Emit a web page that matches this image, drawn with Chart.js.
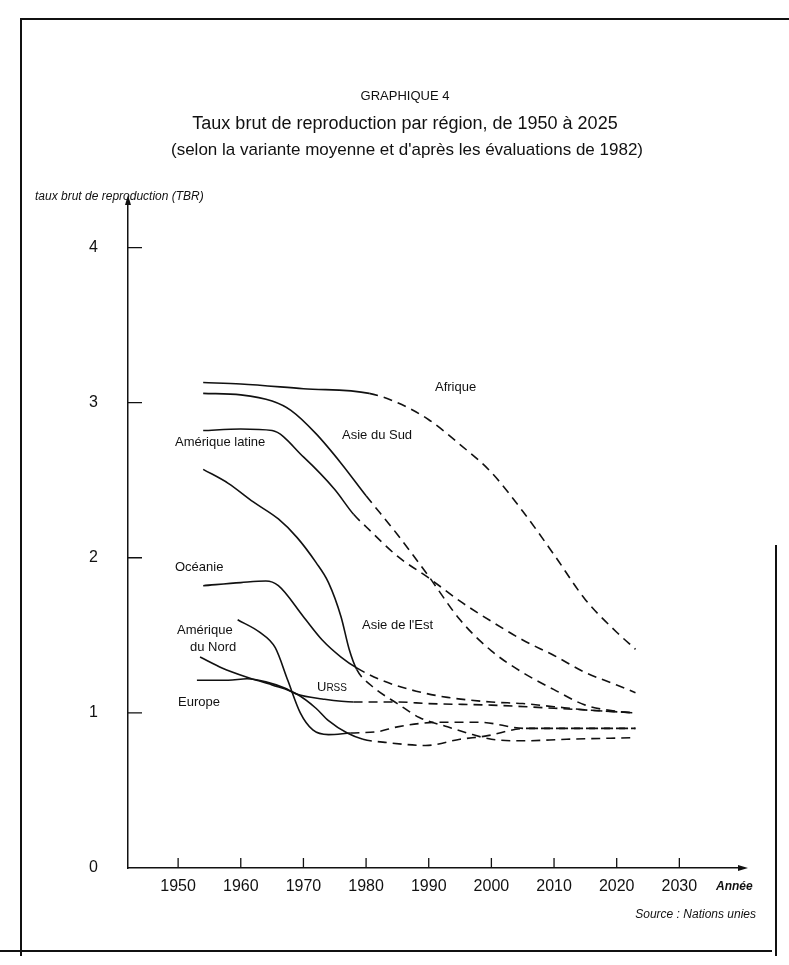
<!DOCTYPE html>
<html lang="fr">
<head>
<meta charset="utf-8">
<title>Taux brut de reproduction par région</title>
<script src="https://cdn.jsdelivr.net/npm/chart.js@4.4.1/dist/chart.umd.min.js"></script>
<style>
  html, body { margin: 0; padding: 0; background: #fff; }
  canvas { display: block; }
</style>
</head>
<body>
<canvas id="tbrChart" width="789" height="965"></canvas>
<script>
// tick labels
const anneesTicks = [1950, 1960, 1970, 1980, 1990, 2000, 2010, 2020, 2030];
const tbrTicks = [0, 1, 2, 3, 4];

// series: [annee, TBR]
const afrique = [[1954,3.13],[1960,3.12],[1970,3.09],[1980.5,3.06],[1985,3.00],[1990,2.89],[1995,2.73],[2000,2.55],[2005,2.30],[2010,2.02],[2015,1.73],[2020,1.52],[2023,1.41]];
const asieSud = [[1954,3.06],[1960,3.05],[1965,3.01],[1968,2.95],[1972,2.80],[1976,2.61],[1980,2.40],[1985,2.15],[1990,1.88],[1995,1.60],[2000,1.40],[2005,1.26],[2010,1.15],[2015,1.05],[2020,1.01],[2023,1.00]];
const ameriqueLatine = [[1954,2.82],[1960,2.83],[1965,2.82],[1970,2.65],[1975,2.44],[1978,2.28],[1980,2.20],[1985,2.01],[1990,1.87],[1995,1.72],[2000,1.59],[2005,1.47],[2010,1.37],[2015,1.26],[2020,1.18],[2023,1.13]];
const asieEst = [[1954,2.57],[1958,2.48],[1962,2.36],[1966,2.25],[1969,2.13],[1972,1.97],[1974,1.84],[1976,1.62],[1977.3,1.41],[1978.5,1.28],[1981,1.17],[1985,1.06],[1988.5,0.97],[1993,0.91],[1997,0.86],[2000,0.83],[2005,0.82],[2012,0.83],[2023,0.84]];
const oceanie = [[1954,1.82],[1960,1.84],[1964,1.85],[1966,1.82],[1970,1.62],[1973,1.47],[1976,1.36],[1978.5,1.29],[1982.5,1.21],[1988,1.14],[1993,1.10],[2000,1.07],[2005,1.06],[2010,1.04],[2015,1.02],[2023,1.00]];
const ameriqueNord = [[1959.5,1.60],[1963,1.52],[1965.5,1.42],[1967.5,1.21],[1969.5,1.00],[1971.5,0.89],[1974,0.86],[1977.5,0.87],[1982,0.88],[1985,0.91],[1992,0.94],[1998,0.94],[2005.5,0.90],[2015,0.90],[2023,0.90]];
const urss = [[1953,1.21],[1958,1.21],[1961,1.22],[1964,1.20],[1967,1.16],[1969,1.12],[1973,1.09],[1978,1.07],[1985,1.07],[1990,1.06],[2000,1.05],[2010,1.03],[2023,1.00]];
const europe = [[1953.5,1.36],[1957,1.29],[1961,1.23],[1965,1.18],[1969,1.12],[1972,1.03],[1974,0.95],[1977,0.87],[1979.5,0.83],[1983,0.81],[1989.5,0.79],[1995,0.83],[1999,0.85],[2005.5,0.90],[2015,0.90],[2023,0.90]];

const regions = ['Afrique', 'Asie du Sud', 'Amérique latine', "Asie de l'Est", 'Océanie', 'Amérique du Nord', 'URSS', 'Europe'];
const series = [afrique, asieSud, ameriqueLatine, asieEst, oceanie, ameriqueNord, urss, europe];
// year where the projection (dashed) starts
const debutProjection = [1980.5, 1980, 1978, 1978.5, 1978.5, 1977.5, 1978, 1979.5];

const datasets = series.map((s, i) => ({
    label: regions[i],
    data: s.map(p => ({ x: p[0], y: p[1] })),
    borderColor: '#111',
    borderWidth: 1.6,
    pointRadius: 0,
    fill: false,
    cubicInterpolationMode: 'monotone',
    segment: {
        borderDash: ctx => ctx.p0.parsed.x >= debutProjection[i] - 0.01 ? [9, 6] : undefined
    }
}));

const FONT = '"Liberation Sans", Arial, sans-serif';

// frame, inward ticks, arrows and the texts of the figure
const decor = {
    id: 'decor',
    afterDraw(chart) {
        const ctx = chart.ctx;
        const a = chart.chartArea;
        const xs = chart.scales.x, ys = chart.scales.y;
        ctx.save();
        ctx.strokeStyle = '#111';
        ctx.fillStyle = '#111';

        // cadre
        ctx.lineWidth = 2;
        ctx.beginPath();
        ctx.moveTo(20, 19); ctx.lineTo(789, 19);
        ctx.moveTo(21, 18); ctx.lineTo(21, 956);
        ctx.moveTo(0, 951); ctx.lineTo(772, 951);
        ctx.moveTo(776, 545); ctx.lineTo(776, 956);
        ctx.stroke();

        // ticks
        ctx.lineWidth = 1.3;
        ctx.beginPath();
        tbrTicks.forEach(v => {
            if (v === 0) return;
            const y = ys.getPixelForValue(v);
            ctx.moveTo(a.left, y); ctx.lineTo(a.left + 14, y);
        });
        anneesTicks.forEach(v => {
            const x = xs.getPixelForValue(v);
            ctx.moveTo(x, a.bottom); ctx.lineTo(x, a.bottom - 10);
        });
        ctx.stroke();

        // arrows
        ctx.beginPath();
        ctx.moveTo(a.left, a.top - 6); ctx.lineTo(a.left - 3, a.top + 4); ctx.lineTo(a.left + 3, a.top + 4);
        ctx.closePath(); ctx.fill();
        ctx.beginPath();
        ctx.moveTo(a.right + 6, a.bottom); ctx.lineTo(a.right - 4, a.bottom - 3); ctx.lineTo(a.right - 4, a.bottom + 3);
        ctx.closePath(); ctx.fill();

        // titles
        ctx.textAlign = 'center';
        ctx.textBaseline = 'middle';
        ctx.font = '13px ' + FONT;
        ctx.fillText('GRAPHIQUE 4', 405, 96);
        ctx.font = '18px ' + FONT;
        ctx.fillText('Taux brut de reproduction par région, de 1950 à 2025', 405, 124);
        ctx.font = '17px ' + FONT;
        ctx.fillText("(selon la variante moyenne et d'après les évaluations de 1982)", 407, 150);

        ctx.textAlign = 'left';
        ctx.font = 'italic 12px ' + FONT;
        ctx.fillText('taux brut de reproduction (TBR)', 35, 197);
        ctx.font = 'italic bold 12px ' + FONT;
        ctx.fillText('Année', 716, 887);
        ctx.font = 'italic 12px ' + FONT;
        ctx.textAlign = 'right';
        ctx.fillText('Source : Nations unies', 756, 915);

        // curve labels
        ctx.textAlign = 'left';
        ctx.font = '13px ' + FONT;
        ctx.fillText('Afrique', 435, 387);
        ctx.fillText('Asie du Sud', 342, 435);
        ctx.fillText('Amérique latine', 175, 442);
        ctx.fillText('Océanie', 175, 567);
        ctx.fillText('Amérique', 177, 630);
        ctx.fillText('du Nord', 190, 647);
        ctx.fillText("Asie de l'Est", 362, 625);
        ctx.fillText('Europe', 178, 702);
        ctx.fillText('U', 317, 687);
        const uw = ctx.measureText('U').width;
        ctx.font = '10px ' + FONT;
        ctx.fillText('RSS', 317 + uw, 688);

        ctx.restore();
    }
};

const tbrChart = new Chart(document.getElementById('tbrChart').getContext('2d'), {
    type: 'line',
    data: { datasets: datasets },
    options: {
        responsive: false,
        animation: false,
        layout: { padding: { left: 0, right: 47, top: 201, bottom: 0 } },
        plugins: {
            legend: { display: false },
            tooltip: { enabled: false },
            title: { display: false }
        },
        scales: {
            x: {
                type: 'linear',
                min: 1942,
                max: 2040,
                afterFit: scale => { scale.height = 97; },
                afterBuildTicks: scale => { scale.ticks = anneesTicks.map(v => ({ value: v })); },
                grid: { display: false, drawTicks: false },
                border: { display: true, color: '#111', width: 1.5 },
                ticks: {
                    color: '#111',
                    padding: 9,
                    maxRotation: 0,
                    autoSkip: false,
                    font: { size: 16, family: FONT },
                    callback: v => String(v)
                }
            },
            y: {
                min: 0,
                max: 4.3,
                afterFit: scale => { scale.width = 128; },
                afterBuildTicks: scale => { scale.ticks = tbrTicks.map(v => ({ value: v })); },
                grid: { display: false, drawTicks: false },
                border: { display: true, color: '#111', width: 1.5 },
                ticks: {
                    color: '#111',
                    padding: 30,
                    font: { size: 16, family: FONT },
                    callback: v => String(v)
                }
            }
        }
    },
    plugins: [decor]
});
</script>
</body>
</html>
